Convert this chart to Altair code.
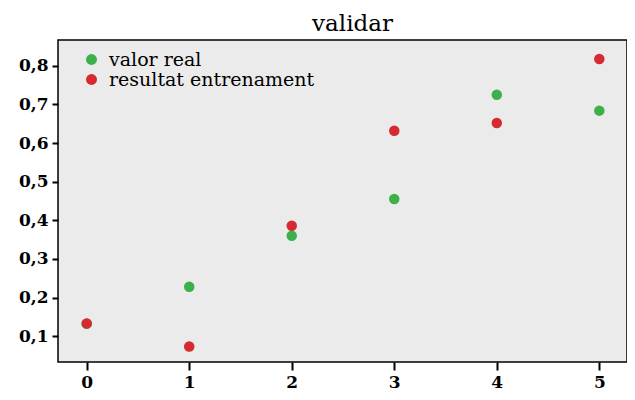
import altair as alt
import pandas as pd

x_vals = [0, 1, 2, 3, 4, 5]
real = [0.132, 0.228, 0.360, 0.455, 0.725, 0.684]
train = [0.133, 0.073, 0.386, 0.632, 0.652, 0.818]
series = ["valor real", "resultat entrenament"]
colors = ["#3cb04a", "#d62930"]

rows = []
for xv, v in zip(x_vals, real):
    rows.append({"x": xv, "y": v, "s": series[0], "o": 0})
for xv, v in zip(x_vals, train):
    rows.append({"x": xv, "y": v, "s": series[1], "o": 1})
df = pd.DataFrame(rows)

FONT = "DejaVu Serif"

chart = alt.Chart(df).mark_circle(size=110, opacity=1).encode(
    x=alt.X("x:Q", scale=alt.Scale(domain=[-0.28, 5.27], nice=False, zero=False),
            axis=alt.Axis(values=x_vals, title=None, grid=False, domain=False,
                          tickColor="black", tickWidth=2, tickSize=8,
                          labelFont=FONT, labelFontSize=17, labelFontWeight="bold",
                          labelColor="black", labelPadding=4, format="d")),
    y=alt.Y("y:Q", scale=alt.Scale(domain=[0.033, 0.867], nice=False, zero=False),
            axis=alt.Axis(values=[0.1, 0.2, 0.3, 0.4, 0.5, 0.6, 0.7, 0.8], title=None,
                          grid=False, domain=False, tickColor="black", tickWidth=2,
                          tickSize=6, labelFont=FONT, labelFontSize=17,
                          labelFontWeight="bold", labelColor="black", labelPadding=4,
                          labelExpr="replace(format(datum.value, '.1f'), '.', ',')")),
    color=alt.Color("s:N", scale=alt.Scale(domain=series, range=colors),
                    legend=alt.Legend(title=None, orient="none", legendX=24, legendY=10,
                                      labelFont=FONT, labelFontSize=19, labelColor="black",
                                      labelLimit=0,
                                      symbolType="circle", symbolSize=120,
                                      symbolStrokeWidth=0, rowPadding=0, labelOffset=8)),
    order=alt.Order("o:Q"),
).properties(
    width=569, height=322,
    title=alt.TitleParams("validar", font=FONT, fontSize=23, fontWeight="normal",
                          color="black", offset=4, dx=10),
    autosize=alt.AutoSizeParams(type="none"),
    padding={"left": 50, "top": 32, "right": 0, "bottom": 30},
).configure_view(
    fill="#ebebeb", stroke="black", strokeWidth=1.5
)

chart.save("out.html", embed_options={"renderer": "svg", "actions": False})
